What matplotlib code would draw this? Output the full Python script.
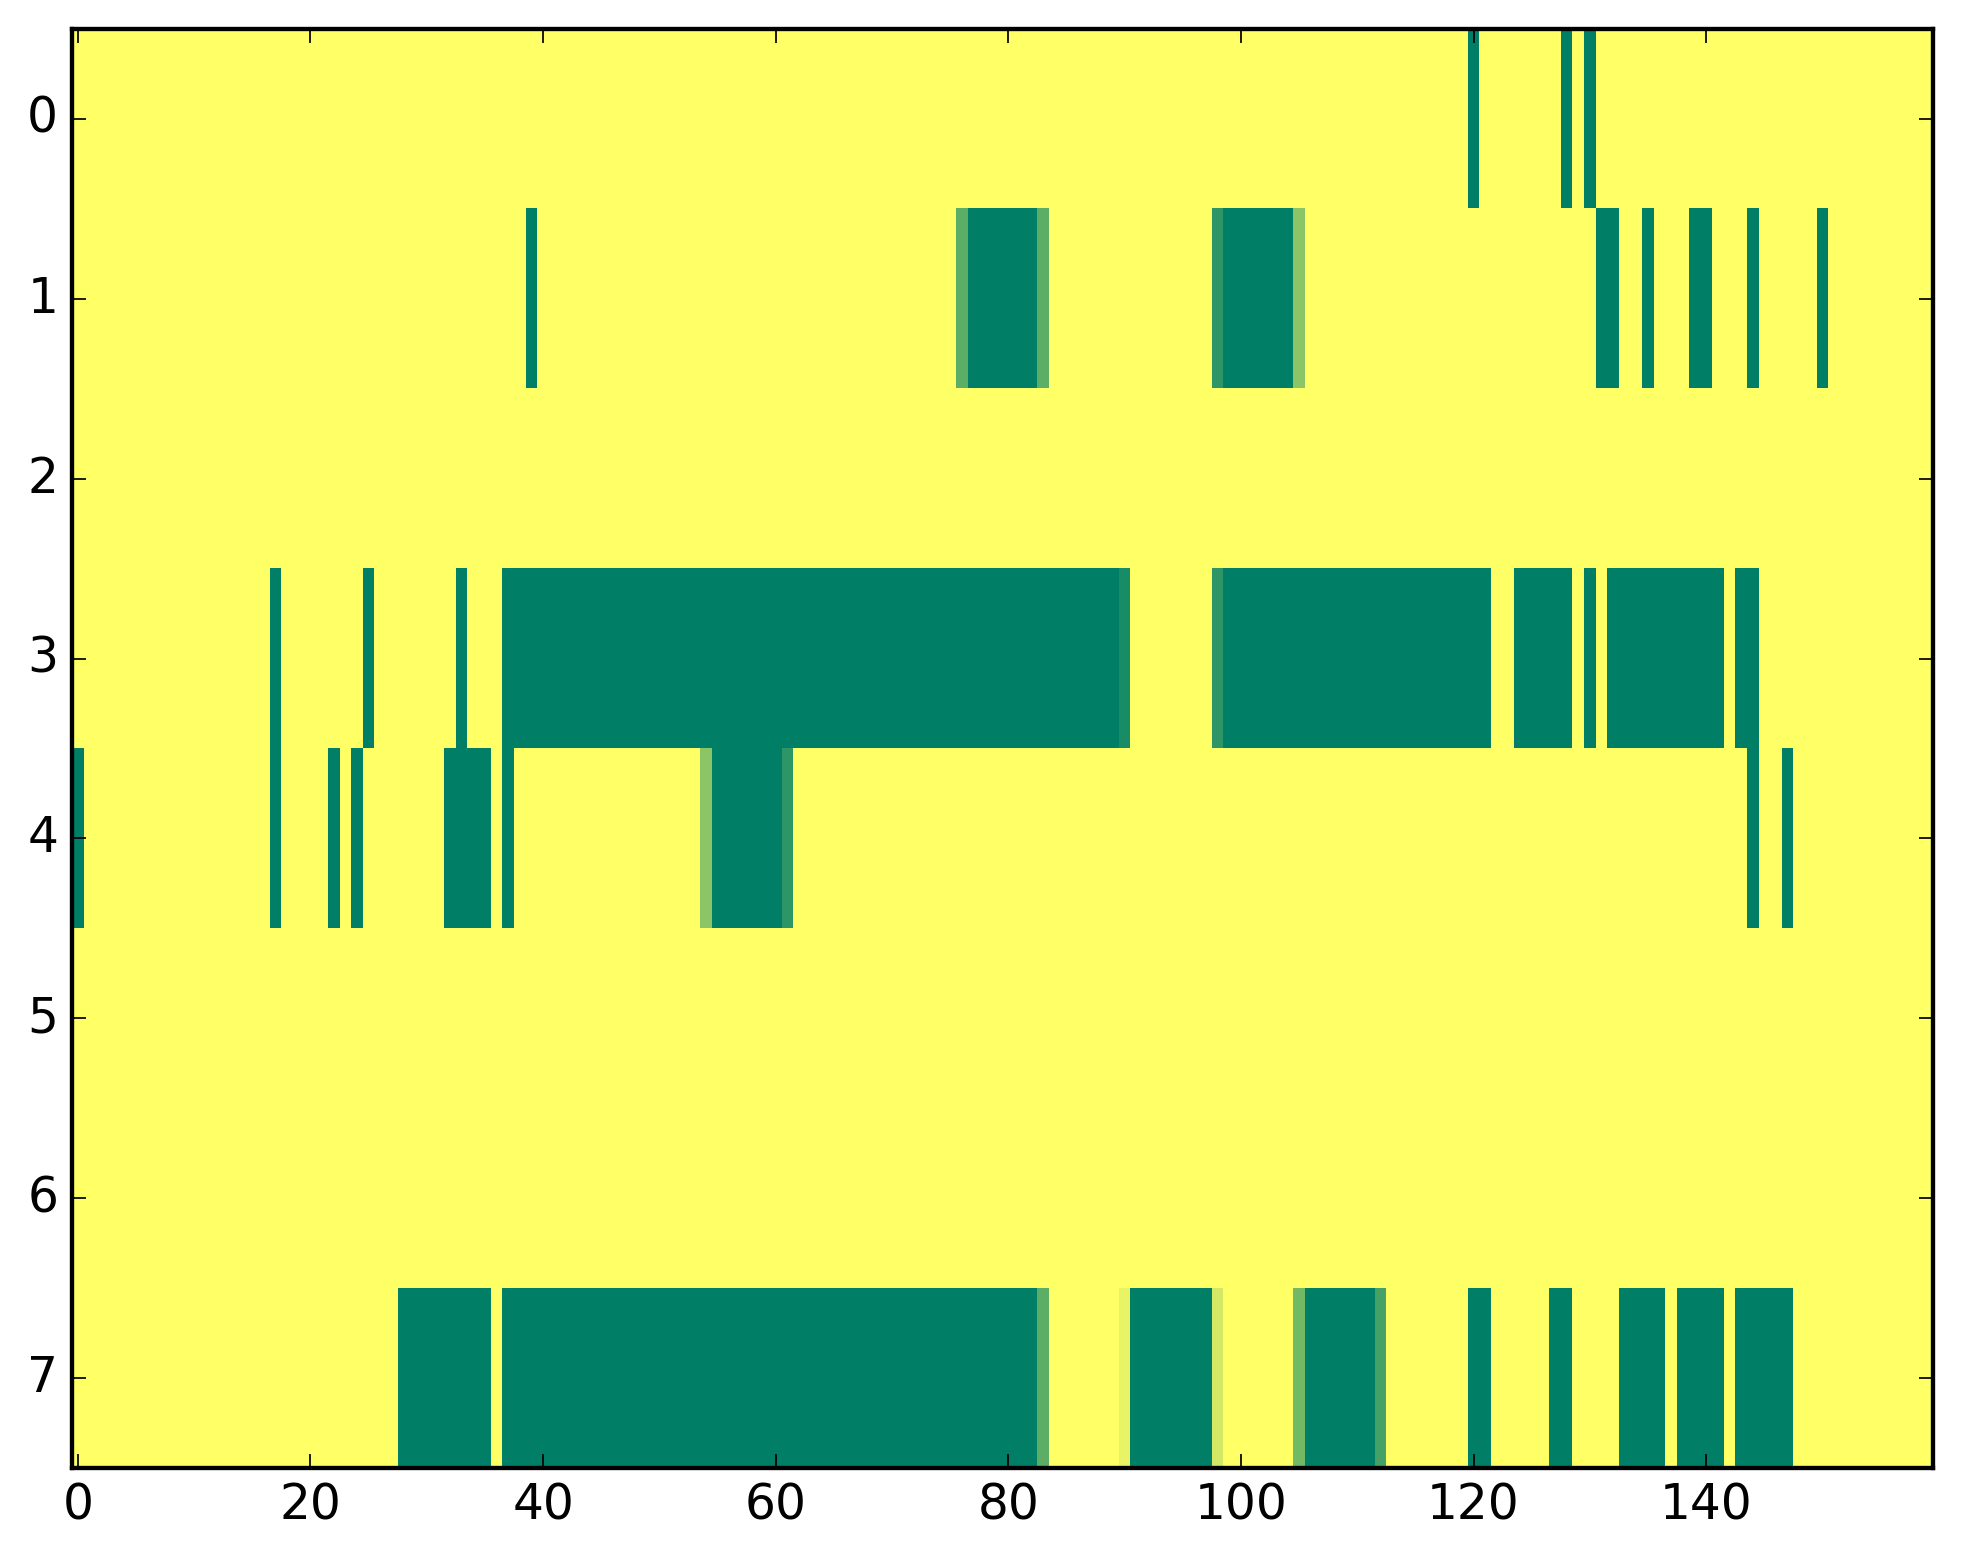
import numpy as np
import matplotlib
matplotlib.use("Agg")
import matplotlib.pyplot as plt

plt.style.use("classic")

n_rows = 8
n_cols = 160

# runs of (first column, last column, value) per row; unlisted cells are 0
row0 = [(120, 120, 1.0), (128, 128, 1.0), (130, 130, 1.0)]
row1 = [(39, 39, 1.0), (76, 76, 0.64), (77, 82, 1.0), (83, 83, 0.64),
        (98, 98, 0.82), (99, 104, 1.0), (105, 105, 0.45), (131, 132, 1.0),
        (135, 135, 1.0), (139, 140, 1.0), (144, 144, 1.0), (150, 150, 1.0)]
row2 = []
row3 = [(17, 17, 1.0), (25, 25, 1.0), (33, 33, 1.0), (37, 89, 1.0),
        (90, 90, 0.9), (98, 98, 0.82), (99, 121, 1.0), (124, 128, 1.0),
        (130, 130, 1.0), (132, 141, 1.0), (143, 144, 1.0)]
row4 = [(0, 0, 1.0), (17, 17, 1.0), (22, 22, 1.0), (24, 24, 1.0),
        (32, 35, 1.0), (37, 37, 1.0), (54, 54, 0.45), (55, 60, 1.0),
        (61, 61, 0.82), (144, 144, 1.0), (147, 147, 1.0)]
row5 = []
row6 = []
row7 = [(28, 35, 1.0), (37, 82, 1.0), (83, 83, 0.64), (90, 90, 0.09),
        (91, 97, 1.0), (98, 98, 0.17), (105, 105, 0.55), (106, 111, 1.0),
        (112, 112, 0.73), (120, 121, 1.0), (127, 128, 1.0), (133, 136, 1.0),
        (138, 141, 1.0), (143, 147, 1.0)]

rows = [row0, row1, row2, row3, row4, row5, row6, row7]

data = np.zeros((n_rows, n_cols))
for r, runs in enumerate(rows):
    for a, b, v in runs:
        data[r, a:b + 1] = v

x_ticks = [0, 20, 40, 60, 80, 100, 120, 140]
y_ticks = [0, 1, 2, 3, 4, 5, 6, 7]

fig = plt.figure(figsize=(1963 / 250, 1564 / 250), dpi=250, facecolor="white")
ax = fig.add_axes([0.0367, 0.0614, 0.948, 0.9201])
ax.imshow(data, cmap="summer_r", vmin=0, vmax=1, aspect="auto",
          interpolation="nearest")
ax.set_xticks(x_ticks)
ax.set_yticks(y_ticks)
ax.set_xlim(-0.5, n_cols - 0.5)
ax.set_ylim(n_rows - 0.5, -0.5)
ax.tick_params(labelsize=14)
for s in ax.spines.values():
    s.set_linewidth(1.25)

fig.savefig("out.png", dpi=250, facecolor="white")
